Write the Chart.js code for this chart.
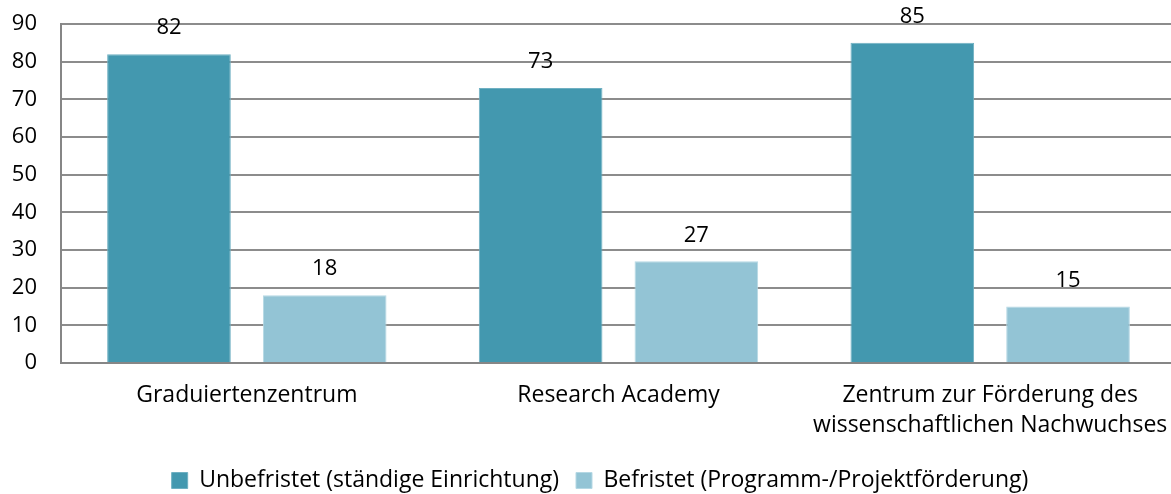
<!DOCTYPE html>
<html><head><meta charset="utf-8">
<script src="https://cdn.jsdelivr.net/npm/chart.js@4/dist/chart.umd.min.js"></script>
<style>html,body{margin:0;padding:0;background:#fff;overflow:hidden}#wrap{width:1171px;height:494px;position:relative;overflow:hidden}canvas{display:block}</style>
</head><body><div id="wrap"><canvas id="c" width="1176" height="494"></canvas></div>
<script>
const categories = [["Graduiertenzentrum"], ["Research Academy"], ["Zentrum zur Förderung des", "wissenschaftlichen Nachwuchses"]];
const seriesNames = ["Unbefristet (ständige Einrichtung)", "Befristet (Programm-/Projektförderung)"];
const unbefristet = [82, 73, 85];
const befristet = [18, 27, 15];
const yTicks = [0, 10, 20, 30, 40, 50, 60, 70, 80, 90];

const FONT = "'Open Sans', sans-serif";
const labelPlugin = {
  id: 'vals',
  afterDatasetsDraw(chart) {
    const ctx = chart.ctx;
    ctx.save();
    ctx.font = "22px " + FONT;
    ctx.fillStyle = '#000';
    ctx.textAlign = 'center';
    ctx.textBaseline = 'middle';
    chart.data.datasets.forEach((ds, i) => {
      chart.getDatasetMeta(i).data.forEach((bar, j) => {
        ctx.fillText(String(ds.data[j]), bar.x, bar.y - 26);
      });
    });
    ctx.restore();
  }
};
const legendPatch = {
  id: 'legendPatch',
  beforeUpdate(chart) {
    const lg = chart.legend;
    if (lg && !lg._patched) {
      const origFit = lg.fit;
      lg.fit = function () { origFit.call(this); this.height = 45; };
      const origDraw = lg.draw;
      lg.draw = function () { const c = this.ctx; c.save(); c.translate(12, 3); origDraw.call(this); c.restore(); };
      lg._patched = true;
    }
  }
};

new Chart(document.getElementById('c'), {
  type: 'bar',
  data: {
    labels: categories,
    datasets: [
      { label: seriesNames[0], data: unbefristet, backgroundColor: '#4398AF', borderColor: '#6FB0C2', borderWidth: 1, categoryPercentage: 0.838, barPercentage: 0.794 },
      { label: seriesNames[1], data: befristet, backgroundColor: '#93C4D5', borderColor: '#B5D8E4', borderWidth: 1, categoryPercentage: 0.838, barPercentage: 0.794 }
    ]
  },
  options: {
    responsive: false,
    animation: false,
    devicePixelRatio: 1,
    layout: { padding: { top: 24, right: 0, left: 0, bottom: 0 } },
    plugins: {
      tooltip: { enabled: false },
      legend: {
        position: 'bottom',
        labels: { font: { size: 23, family: FONT }, color: '#000', boxWidth: 16, boxHeight: 16, padding: 17, useBorderRadius: false }
      }
    },
    scales: {
      x: {
        grid: { display: false, drawTicks: false },
        border: { color: '#868686', width: 2 },
        ticks: { font: { size: 23, family: FONT, lineHeight: 1.3 }, color: '#000', padding: 18, maxRotation: 0 },
        afterFit(s) { s.height = 86; s.paddingLeft = 0; s.paddingRight = 0; }
      },
      y: {
        min: 0, max: 90,
        afterBuildTicks(s) { s.ticks = yTicks.map(v => ({ value: v })); },
        grid: { color: '#8c8c8c', lineWidth: 2, drawTicks: false },
        border: { color: '#868686', width: 2 },
        ticks: { font: { size: 22, family: FONT }, color: '#000', padding: 24 },
        afterFit(s) { s.width = 61; s.paddingTop = 0; s.paddingBottom = 0; }
      }
    }
  },
  plugins: [labelPlugin, legendPatch]
});
</script></body></html>
